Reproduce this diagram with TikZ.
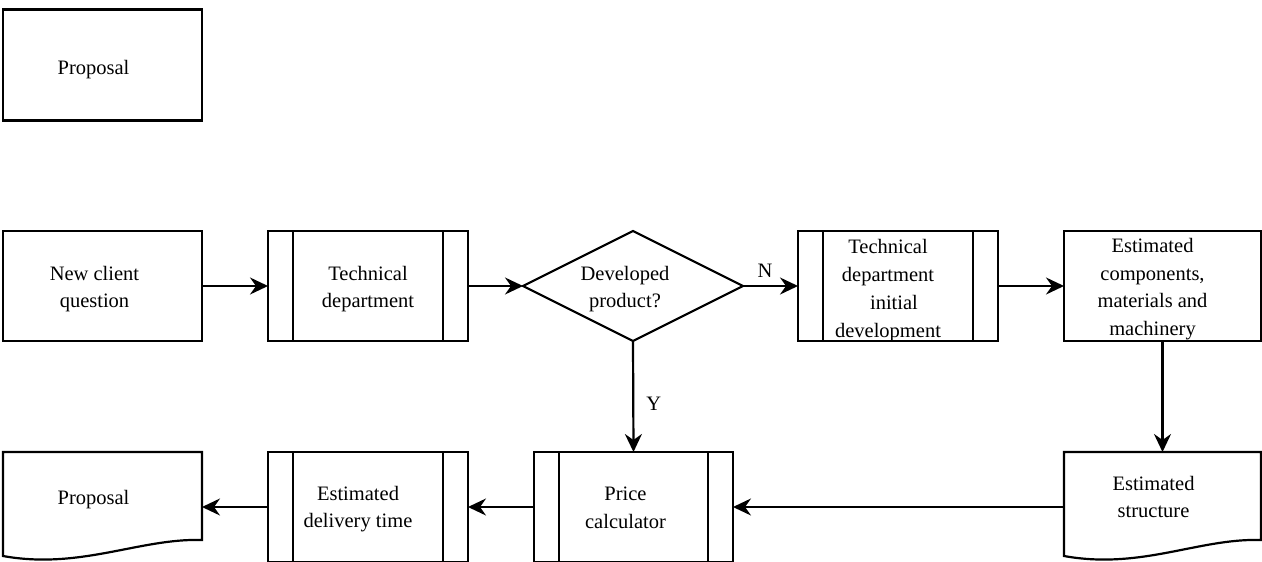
\documentclass[tikz,border=0pt]{standalone}
\usepackage{fontspec}
\setmainfont{Liberation Serif}
\usetikzlibrary{arrows.meta,shapes.geometric,calc}

\tikzset{
  line/.style={line width=2.2pt, black},
  box/.style={rectangle, draw, line, minimum width=199pt, minimum height=110pt,
              inner sep=0pt, outer sep=0pt},
  sub/.style={box, path picture={
      \draw[line] ([xshift=25pt]path picture bounding box.north west) -- ([xshift=25pt]path picture bounding box.south west)
                  ([xshift=-25pt]path picture bounding box.north east) -- ([xshift=-25pt]path picture bounding box.south east);}},
  docbox/.style={rectangle, draw=none, minimum width=199pt, minimum height=110pt, inner sep=0pt, outer sep=0pt},
  decision/.style={diamond, draw, line, minimum width=220pt, minimum height=110pt, inner sep=0pt, outer sep=0pt},
  txt/.style={align=center, font=\fontsize{20.5pt}{27.5pt}\selectfont, inner sep=0pt},
  flow/.style={line, -{Stealth[length=18pt, width=17pt, inset=6pt]}},
}

% document symbol: flat top, wavy bottom
\newcommand\wavedoc[1]{%
  \draw[line] ($(#1.north west)+(0,104)$) -- (#1.north west) -- (#1.north east) -- ++(0,88)
    .. controls +(-62,-2) and +(77,14) .. ($(#1.north west)+(0,104)$) -- cycle;}

\begin{document}
\begin{tikzpicture}[x=1pt, y=-1pt]
  \useasboundingbox (0,0) rectangle (1262,562);
  \clip (0,0) rectangle (1262,561.2);

  % legend box
  \node[box, minimum height=111pt] (legend) at (102.5,65) {};
  \node[txt] (legendT) at ([xshift=-9pt,yshift=-5pt]legend.center) {Proposal};

  % upper row
  \node[box] (ask) at (102.5,286) {};
  \node[txt] (askT) at ([xshift=-8pt,yshift=-3pt]ask.center) {New client\\question};

  \node[sub, minimum width=200pt] (tech) at (368,286) {};
  \node[txt] (techT) at ([yshift=-3pt]tech.center) {Technical\\department};

  \node[decision] (dev) at (633,286) {};
  \node[txt] (devT) at ([xshift=-8pt,yshift=-3pt]dev.center) {Developed\\product?};

  \node[sub, minimum width=200pt] (init) at (898,286) {};
  \node[txt, font=\fontsize{20.5pt}{28pt}\selectfont] (initT) at ([xshift=-10pt,yshift=-5pt]init.center)
    {Technical\\department\\\hspace{12pt}initial\\development};

  \node[box, minimum width=197pt] (comp) at (1162.5,286) {};
  \node[txt, font=\fontsize{20.5pt}{27.8pt}\selectfont] (compT) at ([xshift=-10pt,yshift=-3pt]comp.center)
    {Estimated\\components,\\materials and\\machinery};

  % lower row
  \node[docbox, minimum width=197pt] (struct) at (1162.5,507) {};
  \wavedoc{struct}
  \node[txt] (structT) at ([xshift=-9pt,yshift=10pt]struct.center) {Estimated\\structure};

  \node[sub] (price) at (633.5,507) {};
  \node[txt] (priceT) at ([xshift=-8pt,yshift=-1pt]price.center) {Price\\calculator};

  \node[sub, minimum width=200pt] (deliv) at (368,507) {};
  \node[txt] (delivT) at ([xshift=-10pt,yshift=-2pt]deliv.center) {Estimated\\delivery time};

  \node[docbox] (prop) at (102.5,507) {};
  \wavedoc{prop}
  \node[txt] (propT) at ([xshift=-9pt,yshift=7pt]prop.center) {Proposal};

  % connectors
  \draw[flow] (ask) -- (tech);
  \draw[flow] (tech) -- (dev);
  \draw[flow] (dev.east) -- node[txt, above=7pt, pos=0.4] (nLabel) {N} (init);
  \draw[flow] (init) -- (comp);
  \draw[flow] (comp) -- (struct.north);
  \draw[flow] (dev.south) -- node[txt, right=12pt, pos=0.57] (yLabel) {Y} (price.north);
  \draw[flow] (struct.west) -- (price.east);
  \draw[flow] (price) -- (deliv);
  \draw[flow] (deliv) -- (prop.east);
\end{tikzpicture}
\end{document}
